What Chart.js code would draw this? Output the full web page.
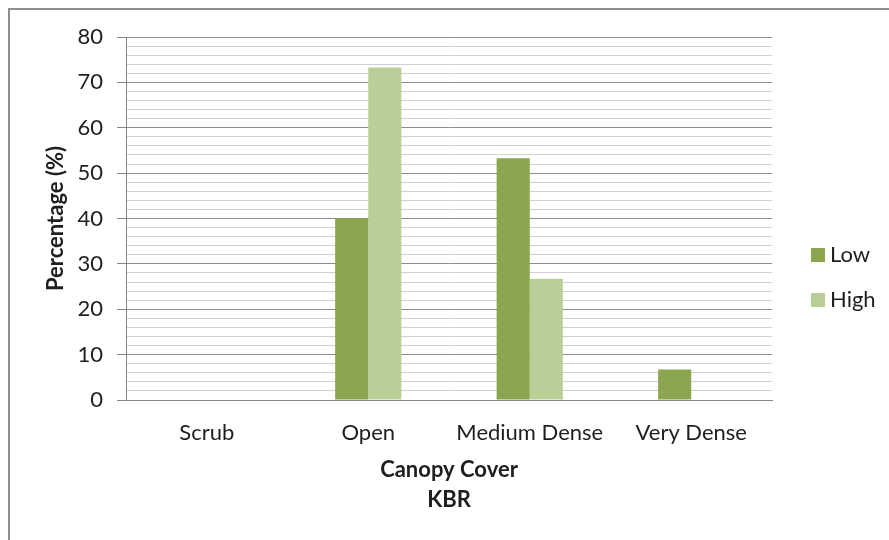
<!DOCTYPE html>
<html>
<head>
<meta charset="utf-8">
<script src="https://cdn.jsdelivr.net/npm/chart.js@4.4.1/dist/chart.umd.min.js"></script>
<style>
  html, body { margin: 0; padding: 0; background: #fff; }
  #wrap { position: relative; width: 889px; height: 540px; overflow: hidden; }
  #frame { position: absolute; left: 8px; top: 8px; width: 1000px; height: 1000px;
           border-left: 2px solid #8e8e8e; border-top: 2px solid #8e8e8e; }
  canvas { position: absolute; left: 0; top: 0; }
</style>
</head>
<body>
<div id="wrap">
  <div id="frame"></div>
  <canvas id="chart" width="889" height="540"></canvas>
</div>
<script>
/* ── Data ───────────────────────────────────────────────────── */
const categories = ['Scrub', 'Open', 'Medium Dense', 'Very Dense'];
const lowValues  = [0, 40, 53.3, 6.7];
const highValues = [0, 73.3, 26.7, 0];
const seriesNames = ['Low', 'High'];
const yMin = 0, yMax = 80, yStep = 2, yLabelEvery = 10;

const FONT = 'Lato, "Liberation Sans", sans-serif';
const FS = 22;
const TEXT = '#1e1e1e';

/* ── Legend drawn at the right, Excel style ─────────────────── */
const sideLegend = {
    id: 'sideLegend',
    afterDraw(chart) {
        const ctx = chart.ctx;
        ctx.save();
        ctx.font = `${FS}px ${FONT}`;
        ctx.textBaseline = 'middle';
        chart.data.datasets.forEach((ds, i) => {
            const cy = 255 + i * 45;
            ctx.fillStyle = ds.backgroundColor;
            ctx.fillRect(811, cy - 7, 14, 14);
            ctx.fillStyle = TEXT;
            ctx.fillText(ds.label, 830, cy);
        });
        ctx.restore();
    }
};

const ctx = document.getElementById('chart').getContext('2d');
new Chart(ctx, {
    type: 'bar',
    data: {
        labels: categories,
        datasets: [
            { label: seriesNames[0], data: lowValues, backgroundColor: '#8aa64f' },
            { label: seriesNames[1], data: highValues, backgroundColor: '#bacf97' },
        ],
    },
    options: {
        responsive: false,
        animation: false,
        layout: { padding: { top: 37, right: 117, bottom: 0, left: 0 } },
        datasets: { bar: { categoryPercentage: 0.41, barPercentage: 1.0 } },
        plugins: { legend: { display: false }, tooltip: { enabled: false } },
        scales: {
            x: {
                grid: { display: false, drawTicks: false, tickLength: 0 },
                border: { display: true, color: '#868686', width: 1 },
                ticks: { color: TEXT, font: { family: FONT, size: FS }, padding: 20, maxRotation: 0 },
                title: {
                    display: true, text: ['Canopy Cover', 'KBR'], color: TEXT,
                    font: { family: FONT, size: FS, weight: 'bold', lineHeight: 30 / FS },
                    padding: { top: 0, bottom: 25 },
                },
                afterFit(scale) { scale.height = 140; },
            },
            y: {
                min: yMin, max: yMax,
                grid: {
                    color: c => (c.tick.value % yLabelEvery === 0 ? '#8c8c8c' : '#d0d0d0'),
                    tickColor: c => (c.tick.value % yLabelEvery === 0 ? '#868686' : 'rgba(0,0,0,0)'),
                    tickLength: 9,
                    lineWidth: 1,
                },
                border: { display: true, color: '#868686', width: 1 },
                ticks: {
                    stepSize: yStep, autoSkip: false, color: TEXT,
                    font: { family: FONT, size: FS }, padding: 14,
                    callback: v => (v % yLabelEvery === 0 ? v : ''),
                },
                title: {
                    display: true, text: 'Percentage (%)', color: TEXT,
                    font: { family: FONT, size: FS, weight: 'bold' },
                    padding: { top: 43, bottom: 0 },
                },
                afterFit(scale) { scale.width = 126; },
            },
        },
    },
    plugins: [sideLegend],
});
</script>
</body>
</html>
